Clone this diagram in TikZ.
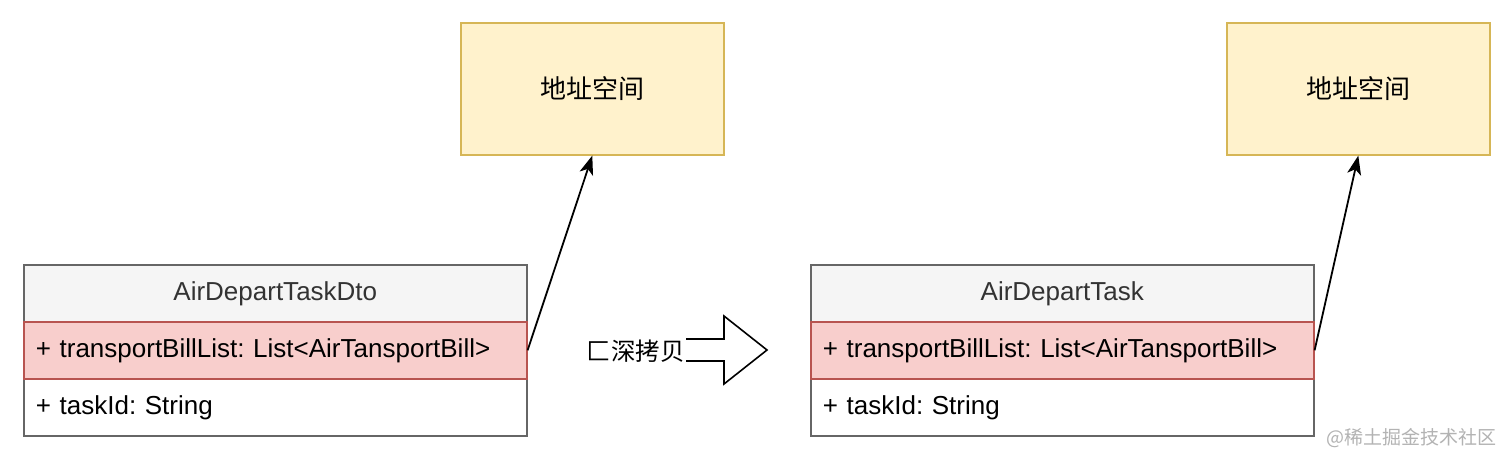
\documentclass[tikz,border=0pt]{standalone}
\usepackage{fontspec}
\setmainfont{Liberation Sans}
\newfontfamily\cjk{Noto Sans CJK SC}
\usetikzlibrary{arrows.meta}
\definecolor{hdrfill}{HTML}{F5F5F5}
\definecolor{hdrline}{HTML}{666666}
\definecolor{hdrtext}{HTML}{333333}
\definecolor{redfill}{HTML}{F8CECC}
\definecolor{redline}{HTML}{B85450}
\definecolor{yelfill}{HTML}{FFF2CC}
\definecolor{yelline}{HTML}{D6B656}
\definecolor{wmark}{HTML}{B3B3B3}
\frenchspacing
\tikzset{
  row/.style={draw=hdrline, line width=1.6pt, minimum width=503pt, minimum height=57pt,
    anchor=north west, text width=479pt, inner xsep=12pt, align=left,
    font=\fontsize{26}{31}\selectfont},
  hdr/.style={row, fill=hdrfill, align=center, text=hdrtext},
  redrow/.style={row, fill=redfill, draw=redline},
  plainrow/.style={row, fill=white},
  addr/.style={draw=yelline, fill=yelfill, line width=1.6pt, minimum width=263pt,
    minimum height=132pt, anchor=north west, font=\cjk\fontsize{26}{30}\selectfont},
  ptr/.style={line width=1.8pt, -{Stealth[length=19pt,width=14pt,inset=5pt]}},
}
\begin{document}
\begin{tikzpicture}[x=1pt,y=-1pt]
\useasboundingbox[fill=white] (0,0) rectangle (1512,464);
% left class
\node[hdr] (h1) at (23,264) {AirDepartTaskDto};
\node[plainrow] (t1) at (23,378) {+ taskId: String};
\node[redrow] (p1) at (23,321) {+ transportBillList: List<AirTansportBill>};
% right class
\node[hdr] (h2) at (810,264) {AirDepartTask};
\node[plainrow] (t2) at (810,378) {+ taskId: String};
\node[redrow] (p2) at (810,321) {+ transportBillList: List<AirTansportBill>};
% address boxes
\node[addr] (a1) at (460,22) {地址空间};
\node[addr] (a2) at (1226,22) {地址空间};
% pointers
\draw[ptr] (p1.east) -- (a1.south);
\draw[ptr] (p2.east) -- (a2.south);
% block arrow
\draw[line width=1.6pt, line join=miter] (686,339) -- (724,339) -- (724,316) -- (767,350) -- (724,384) -- (724,361) -- (686,361);
\node[anchor=east, inner sep=0pt, font=\cjk\fontsize{24.5}{28}\selectfont] (dc) at (685,351) {匚深拷贝};
% watermark
\node[anchor=east, inner sep=0pt, text=wmark, font=\cjk\fontsize{19}{22}\selectfont] (wm) at (1497,438) {@稀土掘金技术社区};
\end{tikzpicture}
\end{document}
